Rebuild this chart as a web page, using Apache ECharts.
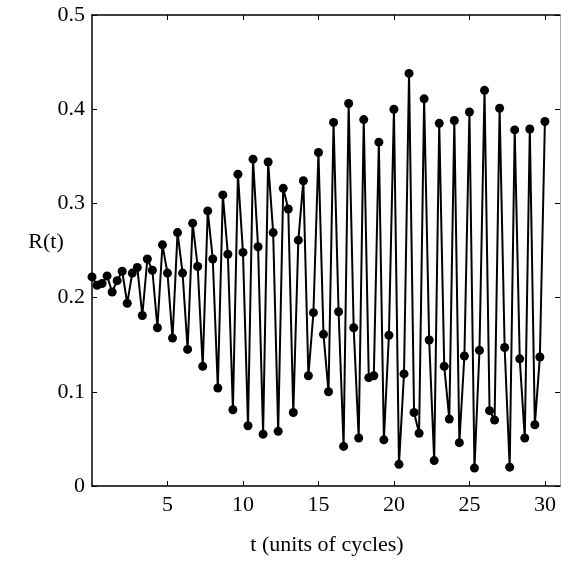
<!DOCTYPE html>
<html>
<head>
<meta charset="utf-8">
<script src="https://cdn.jsdelivr.net/npm/echarts@6/dist/echarts.min.js"></script>
<style>
  html, body { margin: 0; padding: 0; background: #fff; }
  #chart { width: 561px; height: 561px; }
</style>
</head>
<body>
<div id="chart"></div>
<script>
// Sampling step in cycles (three samples per cycle)
const STEP = 1 / 3;

// R(t) samples, one per step starting at t = 0
const rValues = [
  0.222, 0.213, 0.215, 0.223, 0.206, 0.218, 0.228, 0.194, 0.226, 0.232,
  0.181, 0.241, 0.229, 0.168, 0.256, 0.226, 0.157, 0.269, 0.226, 0.145,
  0.279, 0.233, 0.127, 0.292, 0.241, 0.104, 0.309, 0.246, 0.081, 0.331,
  0.248, 0.064, 0.347, 0.254, 0.055, 0.344, 0.269, 0.058, 0.316, 0.294,
  0.078, 0.261, 0.324, 0.117, 0.184, 0.354, 0.161, 0.100, 0.386, 0.185,
  0.042, 0.406, 0.168, 0.051, 0.389, 0.115, 0.117, 0.365, 0.049, 0.160,
  0.400, 0.023, 0.119, 0.438, 0.078, 0.056, 0.411, 0.155, 0.027, 0.385,
  0.127, 0.071, 0.388, 0.046, 0.138, 0.397, 0.019, 0.144, 0.420, 0.080,
  0.070, 0.401, 0.147, 0.020, 0.378, 0.135, 0.051, 0.379, 0.065, 0.137,
  0.387
];

// Axis ticks and labels
const xTicks = [5, 10, 15, 20, 25, 30];
const yTicks = [0, 0.1, 0.2, 0.3, 0.4, 0.5];
const xTitle = 't (units of cycles)';
const yTitle = 'R(t)';

const points = rValues.map((r, i) => [i * STEP, r]);

const FONT = '"Liberation Serif", "Times New Roman", serif';
const FONT_SIZE = 22;
const BLACK = '#000';

const chart = echarts.init(document.getElementById('chart'), null, { renderer: 'canvas' });

const baseX = {
  type: 'value',
  min: 0,
  max: 31,
  interval: 5,
  splitLine: { show: false },
  axisLine: { show: true, onZero: false, lineStyle: { color: BLACK, width: 1.5 } },
  axisTick: { show: true, inside: true, length: 5, lineStyle: { color: BLACK, width: 1 }, customValues: xTicks }
};
const baseY = {
  type: 'value',
  min: 0,
  max: 0.5,
  interval: 0.1,
  splitLine: { show: false },
  axisLine: { show: true, onZero: false, lineStyle: { color: BLACK, width: 1.5 } },
  axisTick: { show: true, inside: true, length: 5, lineStyle: { color: BLACK, width: 1 }, customValues: yTicks }
};

chart.setOption({
  animation: false,
  backgroundColor: '#fff',
  grid: { left: 92, right: 1, top: 15, bottom: 75 },
  xAxis: [
    Object.assign({}, baseX, {
      position: 'bottom',
      axisLabel: {
        show: true, color: BLACK, fontFamily: FONT, fontSize: FONT_SIZE, margin: 8,
        customValues: xTicks,
        formatter: v => String(v)
      }
    }),
    Object.assign({}, baseX, { position: 'top', axisLabel: { show: false } })
  ],
  yAxis: [
    Object.assign({}, baseY, {
      position: 'left',
      axisLabel: {
        show: true, color: BLACK, fontFamily: FONT, fontSize: FONT_SIZE, margin: 7,
        customValues: yTicks,
        formatter: v => (v === 0 ? '0' : v.toFixed(1))
      }
    }),
    Object.assign({}, baseY, {
      position: 'right',
      axisLine: { show: true, onZero: false, lineStyle: { color: '#aaa', width: 1 } },
      axisLabel: { show: false }
    })
  ],
  graphic: [
    {
      type: 'text',
      x: 327, y: 545,
      style: { text: xTitle, fill: BLACK, font: FONT_SIZE + 'px ' + FONT, align: 'center', verticalAlign: 'middle' }
    },
    {
      type: 'text',
      x: 46, y: 242,
      style: { text: yTitle, fill: BLACK, font: FONT_SIZE + 'px ' + FONT, align: 'center', verticalAlign: 'middle' }
    }
  ],
  series: [{
    type: 'line',
    data: points,
    xAxisIndex: 0,
    yAxisIndex: 0,
    symbol: 'circle',
    symbolSize: 9,
    showSymbol: true,
    lineStyle: { color: BLACK, width: 2 },
    itemStyle: { color: BLACK },
    clip: false
  }]
});
</script>
</body>
</html>
